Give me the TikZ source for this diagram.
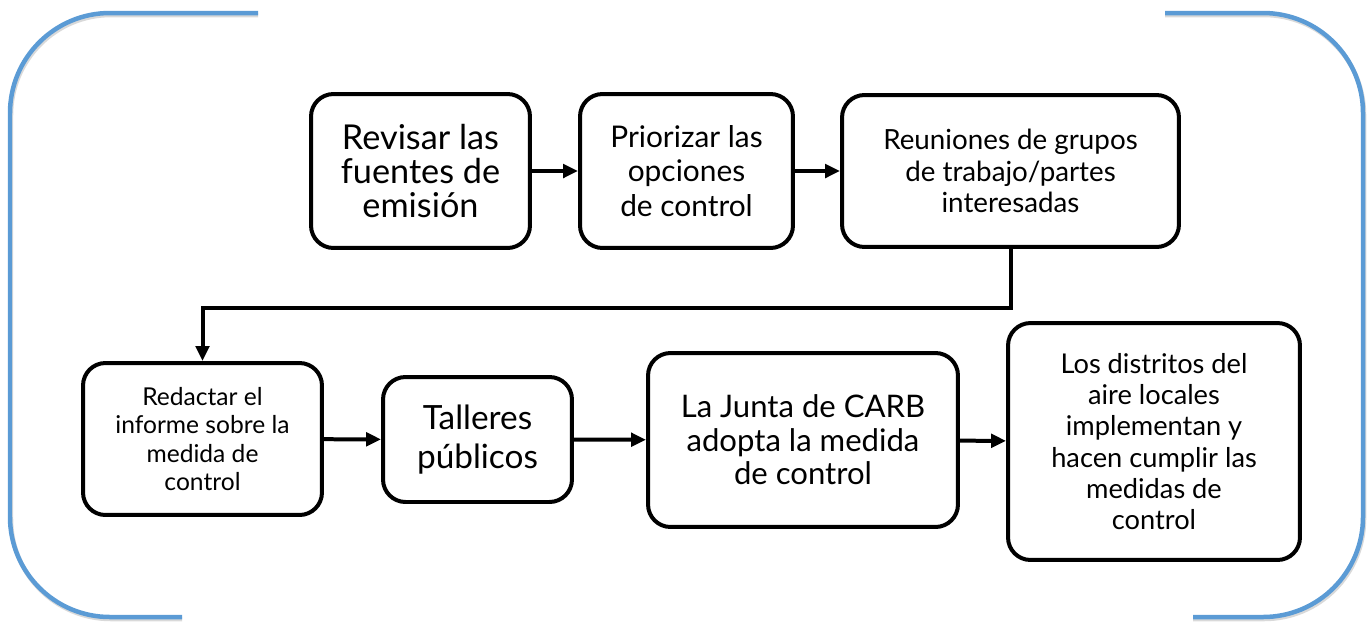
\documentclass[tikz,border=0pt]{standalone}
\usepackage{fontspec}
\setmainfont{Lato}
\usetikzlibrary{arrows.meta,positioning}
\definecolor{framecol}{RGB}{91,155,213}
\tikzset{>={Triangle[length=0.3cm,width=0.27cm]}}
\tikzset{
  stepbox/.style={draw, line width=0.08cm, rounded corners=0.45cm, align=center, inner sep=2pt},
  flow/.style={->, line width=0.08cm},
  frameline/.style={draw=framecol, line width=0.09cm, rounded corners=2cm}
}

\begin{document}
\begin{tikzpicture}[x=0.02cm,y=-0.02cm]
    \useasboundingbox (0,0) rectangle (1372,623);
    % outer frame, open at top and bottom
    \draw [frameline, draw=black!15] (258,15) -- (11,15) -- (11,619) -- (182,619);
    \draw [frameline, draw=black!15] (1165,15) -- (1364,15) -- (1364,619) -- (1193,619);
    \draw [frameline] (258,13) -- (10,13) -- (10,617) -- (182,617);
    \draw [frameline] (1165,13) -- (1363,13) -- (1363,617) -- (1193,617);

    \node [stepbox, minimum width=4.38cm, minimum height=3.08cm, font=\fontsize{19.5}{19.6}\selectfont] (revisar) at (420.5,171) {Revisar las\\fuentes de\\emisión};
    \node [stepbox, minimum width=4.26cm, minimum height=3.08cm, font=\fontsize{17}{19.8}\selectfont] (priorizar) at (686.5,171) {Priorizar las\\opciones\\de control};
    \node [stepbox, minimum width=6.74cm, minimum height=3.04cm, font=\fontsize{15.8}{18.1}\selectfont] (reuniones) at (1010.5,171) {Reuniones de grupos\\de trabajo/partes\\interesadas};
    \node [stepbox, minimum width=4.78cm, minimum height=3.04cm, font=\fontsize{14}{16.3}\selectfont] (redactar) at (202.5,439) {Redactar el\\informe sobre la\\medida de\\control};
    \node [stepbox, minimum width=3.78cm, minimum height=2.5cm, font=\fontsize{19}{22.6}\selectfont] (talleres) at (477.5,439.5) {Talleres\\públicos};
    \node [stepbox, minimum width=6.2cm, minimum height=3.48cm, font=\fontsize{17.7}{19}\selectfont] (junta) at (803,440) {La Junta de CARB\\adopta la medida\\de control};
    \node [stepbox, minimum width=5.84cm, minimum height=4.74cm, font=\fontsize{15.5}{17.8}\selectfont] (distritos) at (1154,441.5) {Los distritos del\\aire locales\\implementan y\\hacen cumplir las\\medidas de\\control};

    \draw [flow] (revisar) -- (priorizar);
    \draw [flow] (priorizar) -- (reuniones);
    \draw [flow] (reuniones.south) -- ++(0,59) -| (redactar.north);
    \draw [flow] (redactar) -- (talleres);
    \draw [flow] (talleres) -- (junta);
    \draw [flow] (junta) -- (distritos);
\end{tikzpicture}
\end{document}
